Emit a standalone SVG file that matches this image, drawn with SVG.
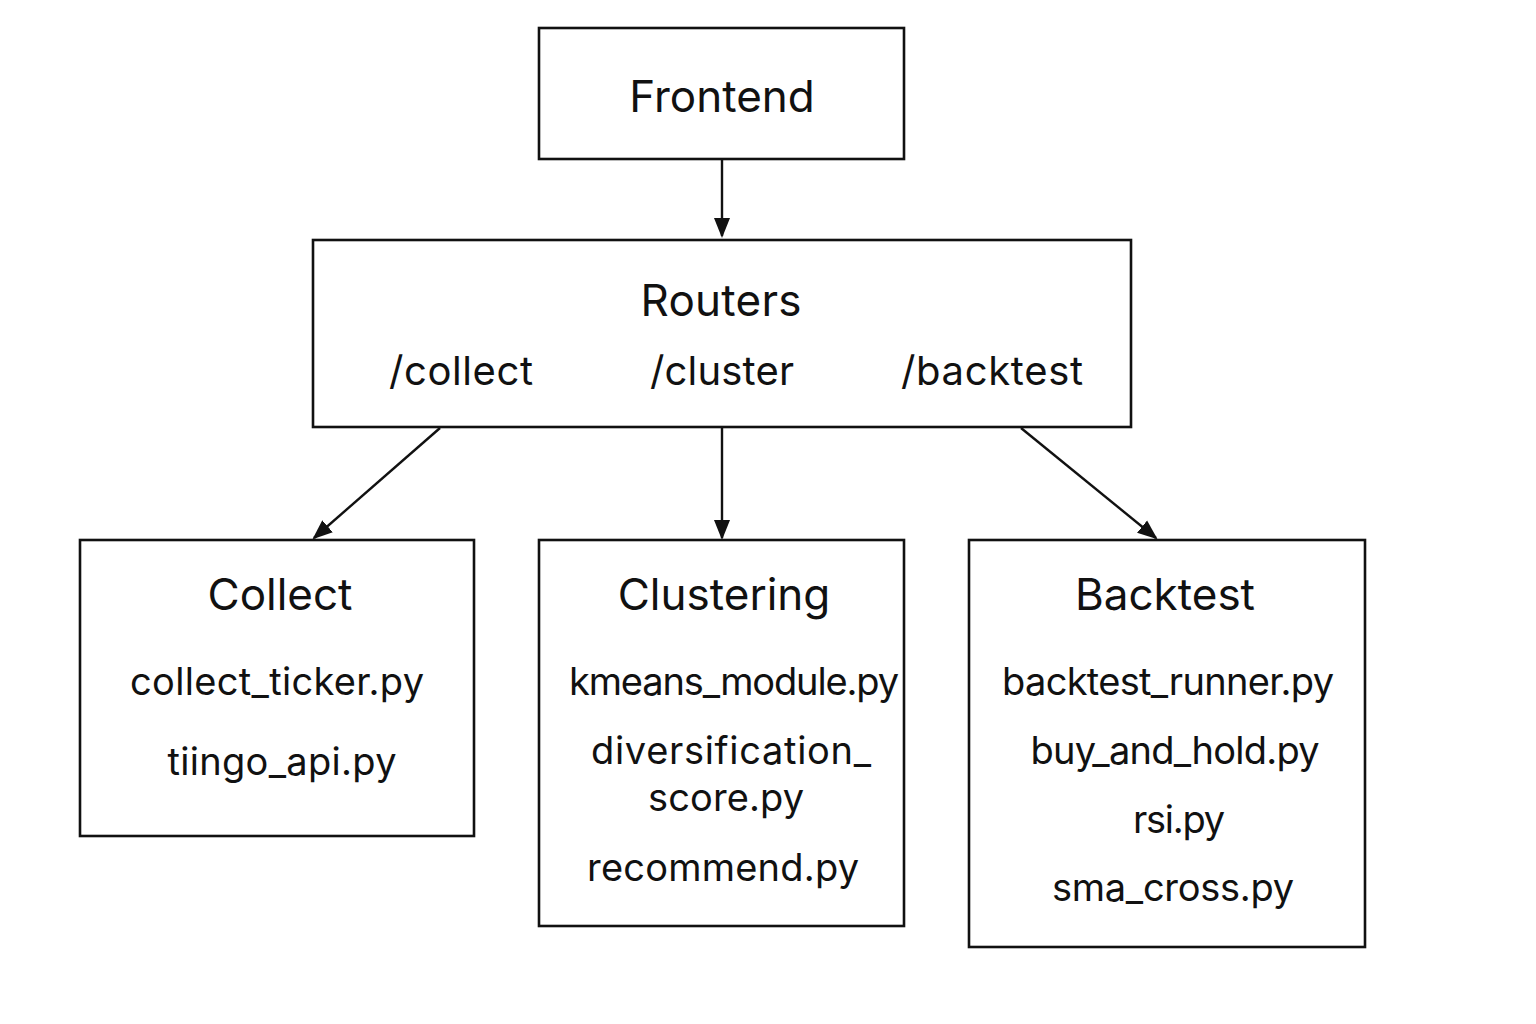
<svg xmlns="http://www.w3.org/2000/svg" width="1536" height="1024" viewBox="0 0 1536 1024">
<defs>
<style>
.box{fill:#fff;stroke:#111;stroke-width:2.6}
.t{font-family:Inter,"Noto Sans","DejaVu Sans",sans-serif;fill:#111;text-anchor:middle}
.h{font-size:44px}
.r{font-size:40px}
.i{font-size:38px}
.c{stroke:#111;stroke-width:2.4;fill:none;marker-end:url(#ah)}
</style>
<marker id="ah" viewBox="0 0 10 10" refX="9" refY="5" markerWidth="20" markerHeight="20" markerUnits="userSpaceOnUse" orient="auto">
<path d="M0,1 L10,5 L0,9 Z" fill="#111"/>
</marker>
</defs>
<rect width="1536" height="1024" fill="#fff"/>
<g id="connectors">
<line class="c" x1="722" y1="160" x2="722" y2="236"/>
<line class="c" x1="440" y1="428" x2="314" y2="538"/>
<line class="c" x1="722" y1="428" x2="722" y2="538"/>
<line class="c" x1="1021" y1="428" x2="1156" y2="538"/>
</g>
<g id="frontend">
<rect class="box" x="539" y="28" width="365" height="131"/>
<text class="t h" x="722" y="112">Frontend</text>
</g>
<g id="routers">
<rect class="box" x="313" y="240" width="818" height="187"/>
<text class="t h" x="721" y="316" textLength="161">Routers</text>
<text class="t r" x="461" y="385" textLength="144">/collect</text>
<text class="t r" x="722" y="385" textLength="144">/cluster</text>
<text class="t r" x="992" y="385" textLength="182">/backtest</text>
</g>
<g id="collect">
<rect class="box" x="80" y="540" width="394" height="296"/>
<text class="t h" x="280" y="610">Collect</text>
<text class="t i" x="277" y="695" textLength="294">collect_ticker.py</text>
<text class="t i" x="282" y="775" textLength="229">tiingo_api.py</text>
</g>
<g id="clustering">
<rect class="box" x="539" y="540" width="365" height="386"/>
<text class="t h" x="724" y="610">Clustering</text>
<text class="t i" x="734" y="695" textLength="330">kmeans_module.py</text>
<text class="t i" x="731" y="764" textLength="280">diversification_</text>
<text class="t i" x="726" y="811" textLength="156">score.py</text>
<text class="t i" x="723" y="881" textLength="272">recommend.py</text>
</g>
<g id="backtest">
<rect class="box" x="969" y="540" width="396" height="407"/>
<text class="t h" x="1165" y="610">Backtest</text>
<text class="t i" x="1168" y="695" textLength="332">backtest_runner.py</text>
<text class="t i" x="1175" y="764" textLength="289">buy_and_hold.py</text>
<text class="t i" x="1179" y="833" textLength="92">rsi.py</text>
<text class="t i" x="1173" y="901" textLength="242">sma_cross.py</text>
</g>
</svg>
